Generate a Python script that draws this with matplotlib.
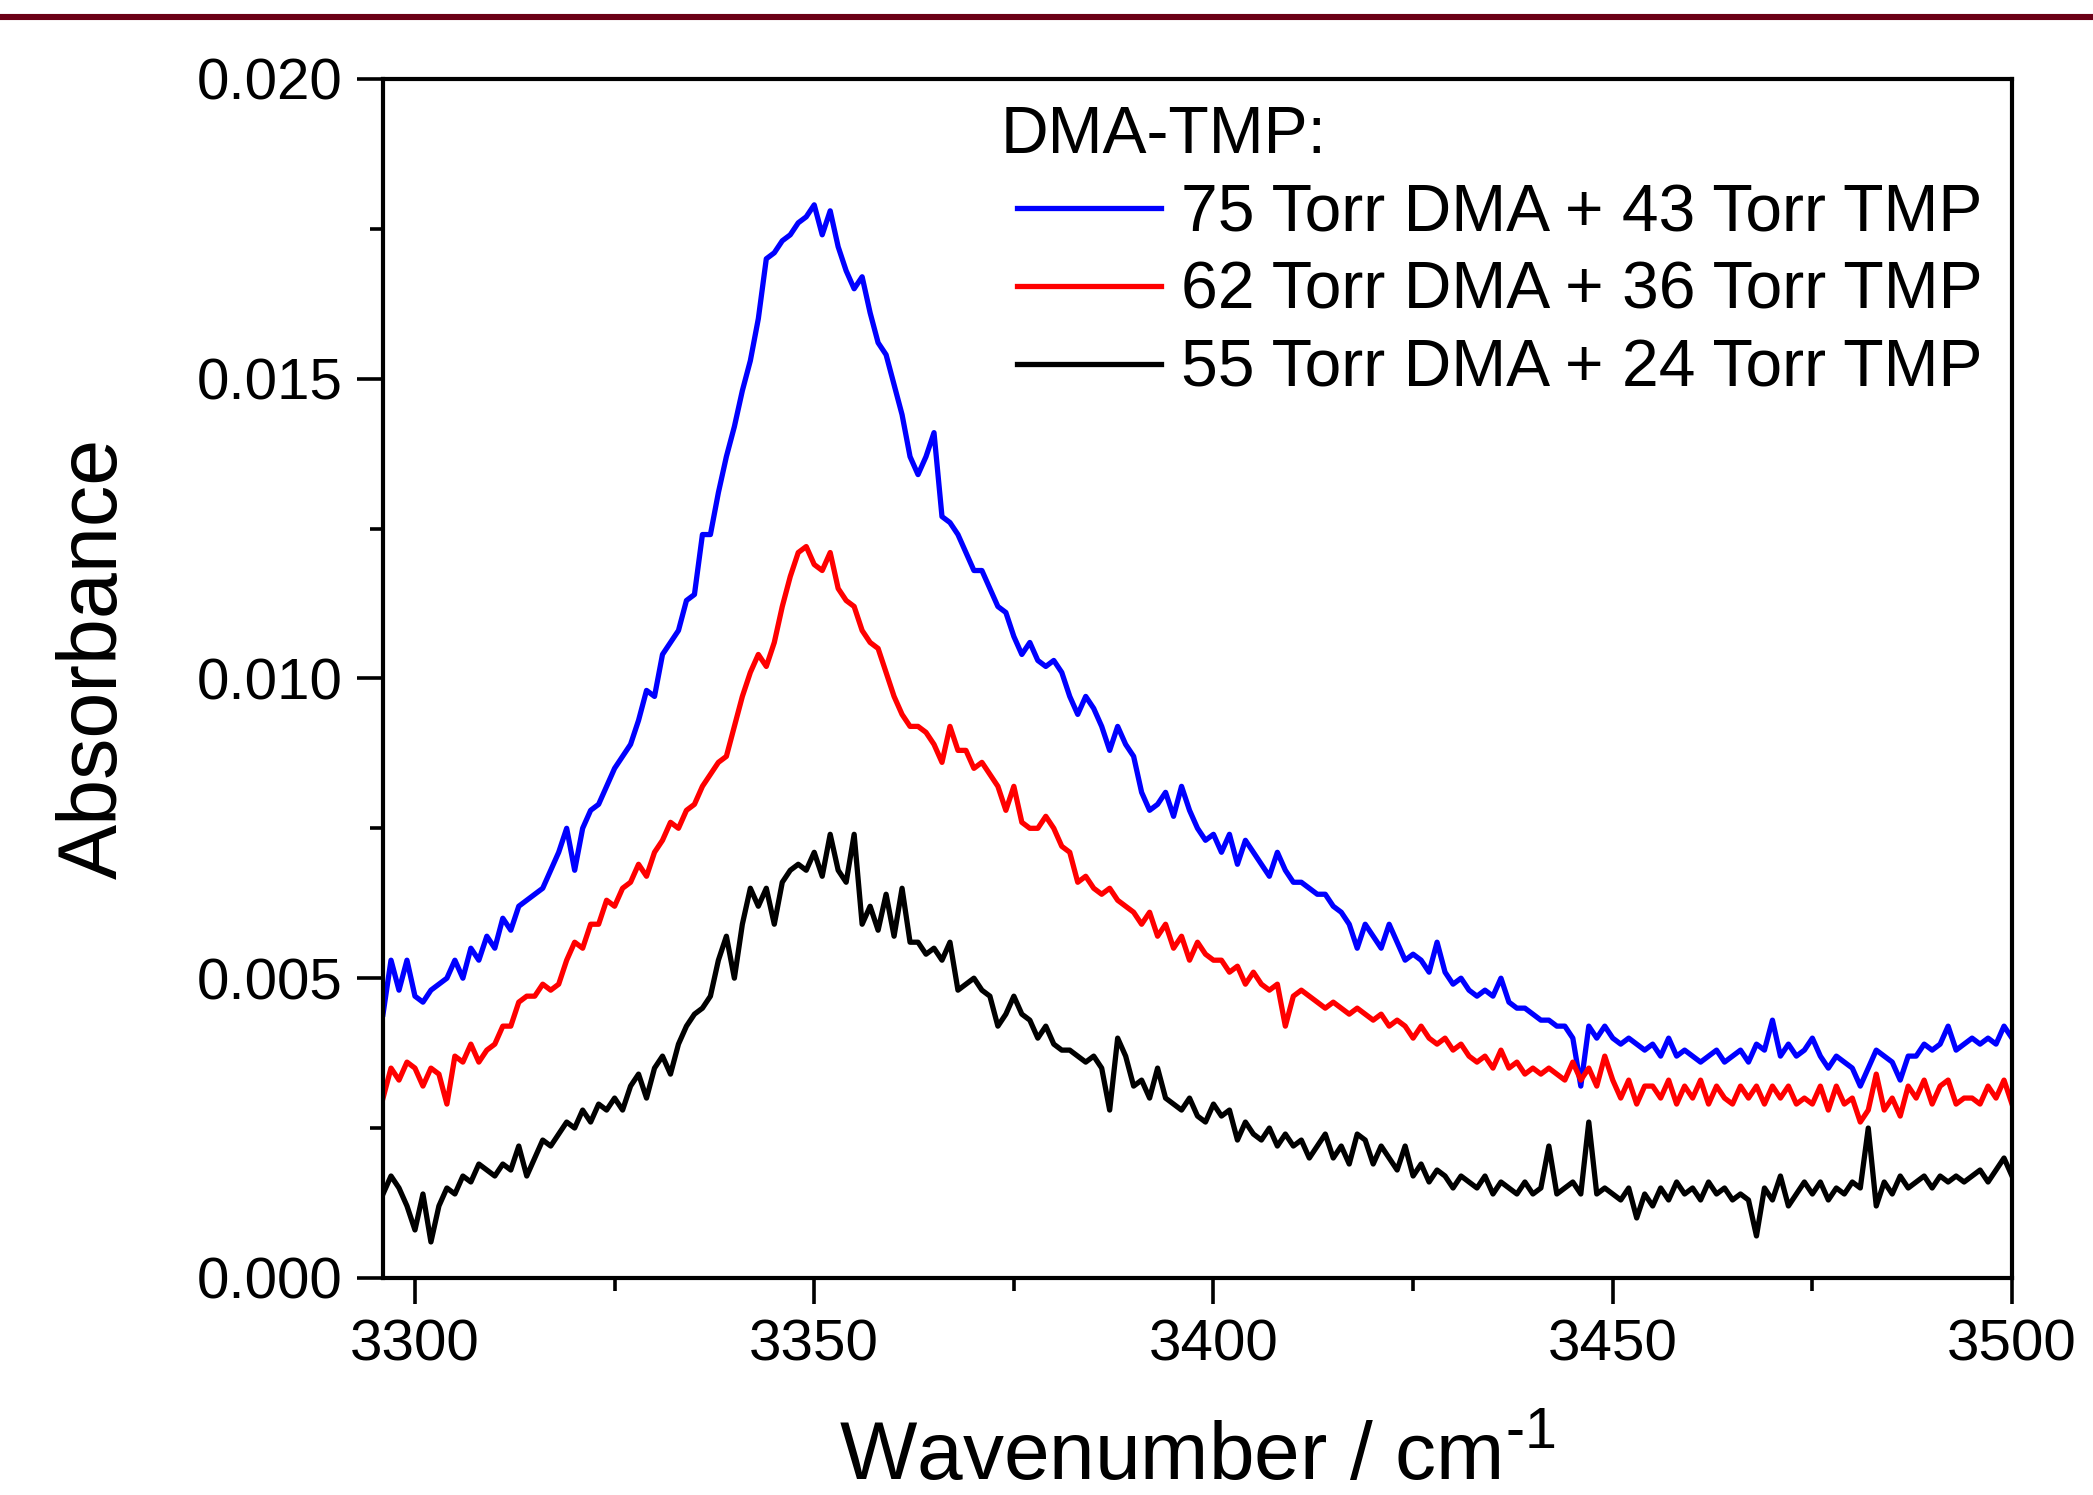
import numpy as np
import matplotlib
matplotlib.use('Agg')
import matplotlib.pyplot as plt
from matplotlib.lines import Line2D
from matplotlib.ticker import MultipleLocator

plt.rcParams['font.family'] = ['Liberation Sans', 'DejaVu Sans']
plt.rcParams['mathtext.fontset'] = 'custom'
plt.rcParams['mathtext.rm'] = 'Liberation Sans'

# wavenumber grid, cm-1
wavenumber = np.arange(3296, 3501)

# absorbance x 1e-3
abs_75_43 = [
    4.4, 5.3, 4.8, 5.3, 4.7, 4.6, 4.8, 4.9, 5.0, 5.3,
    5.0, 5.5, 5.3, 5.7, 5.5, 6.0, 5.8, 6.2, 6.3, 6.4,
    6.5, 6.8, 7.1, 7.5, 6.8, 7.5, 7.8, 7.9, 8.2, 8.5,
    8.7, 8.9, 9.3, 9.8, 9.7, 10.4, 10.6, 10.8, 11.3, 11.4,
    12.4, 12.4, 13.1, 13.7, 14.2, 14.8, 15.3, 16.0, 17.0, 17.1,
    17.3, 17.4, 17.6, 17.7, 17.9, 17.4, 17.8, 17.2, 16.8, 16.5,
    16.7, 16.1, 15.6, 15.4, 14.9, 14.4, 13.7, 13.4, 13.7, 14.1,
    12.7, 12.6, 12.4, 12.1, 11.8, 11.8, 11.5, 11.2, 11.1, 10.7,
    10.4, 10.6, 10.3, 10.2, 10.3, 10.1, 9.7, 9.4, 9.7, 9.5,
    9.2, 8.8, 9.2, 8.9, 8.7, 8.1, 7.8, 7.9, 8.1, 7.7,
    8.2, 7.8, 7.5, 7.3, 7.4, 7.1, 7.4, 6.9, 7.3, 7.1,
    6.9, 6.7, 7.1, 6.8, 6.6, 6.6, 6.5, 6.4, 6.4, 6.2,
    6.1, 5.9, 5.5, 5.9, 5.7, 5.5, 5.9, 5.6, 5.3, 5.4,
    5.3, 5.1, 5.6, 5.1, 4.9, 5.0, 4.8, 4.7, 4.8, 4.7,
    5.0, 4.6, 4.5, 4.5, 4.4, 4.3, 4.3, 4.2, 4.2, 4.0,
    3.2, 4.2, 4.0, 4.2, 4.0, 3.9, 4.0, 3.9, 3.8, 3.9,
    3.7, 4.0, 3.7, 3.8, 3.7, 3.6, 3.7, 3.8, 3.6, 3.7,
    3.8, 3.6, 3.9, 3.8, 4.3, 3.7, 3.9, 3.7, 3.8, 4.0,
    3.7, 3.5, 3.7, 3.6, 3.5, 3.2, 3.5, 3.8, 3.7, 3.6,
    3.3, 3.7, 3.7, 3.9, 3.8, 3.9, 4.2, 3.8, 3.9, 4.0,
    3.9, 4.0, 3.9, 4.2, 4.0]

abs_62_36 = [
    3.0, 3.5, 3.3, 3.6, 3.5, 3.2, 3.5, 3.4, 2.9, 3.7,
    3.6, 3.9, 3.6, 3.8, 3.9, 4.2, 4.2, 4.6, 4.7, 4.7,
    4.9, 4.8, 4.9, 5.3, 5.6, 5.5, 5.9, 5.9, 6.3, 6.2,
    6.5, 6.6, 6.9, 6.7, 7.1, 7.3, 7.6, 7.5, 7.8, 7.9,
    8.2, 8.4, 8.6, 8.7, 9.2, 9.7, 10.1, 10.4, 10.2, 10.6,
    11.2, 11.7, 12.1, 12.2, 11.9, 11.8, 12.1, 11.5, 11.3, 11.2,
    10.8, 10.6, 10.5, 10.1, 9.7, 9.4, 9.2, 9.2, 9.1, 8.9,
    8.6, 9.2, 8.8, 8.8, 8.5, 8.6, 8.4, 8.2, 7.8, 8.2,
    7.6, 7.5, 7.5, 7.7, 7.5, 7.2, 7.1, 6.6, 6.7, 6.5,
    6.4, 6.5, 6.3, 6.2, 6.1, 5.9, 6.1, 5.7, 5.9, 5.5,
    5.7, 5.3, 5.6, 5.4, 5.3, 5.3, 5.1, 5.2, 4.9, 5.1,
    4.9, 4.8, 4.9, 4.2, 4.7, 4.8, 4.7, 4.6, 4.5, 4.6,
    4.5, 4.4, 4.5, 4.4, 4.3, 4.4, 4.2, 4.3, 4.2, 4.0,
    4.2, 4.0, 3.9, 4.0, 3.8, 3.9, 3.7, 3.6, 3.7, 3.5,
    3.8, 3.5, 3.6, 3.4, 3.5, 3.4, 3.5, 3.4, 3.3, 3.6,
    3.3, 3.5, 3.2, 3.7, 3.3, 3.0, 3.3, 2.9, 3.2, 3.2,
    3.0, 3.3, 2.9, 3.2, 3.0, 3.3, 2.9, 3.2, 3.0, 2.9,
    3.2, 3.0, 3.2, 2.9, 3.2, 3.0, 3.2, 2.9, 3.0, 2.9,
    3.2, 2.8, 3.2, 2.9, 3.0, 2.6, 2.8, 3.4, 2.8, 3.0,
    2.7, 3.2, 3.0, 3.3, 2.9, 3.2, 3.3, 2.9, 3.0, 3.0,
    2.9, 3.2, 3.0, 3.3, 2.9]

abs_55_24 = [
    1.4, 1.7, 1.5, 1.2, 0.8, 1.4, 0.6, 1.2, 1.5, 1.4,
    1.7, 1.6, 1.9, 1.8, 1.7, 1.9, 1.8, 2.2, 1.7, 2.0,
    2.3, 2.2, 2.4, 2.6, 2.5, 2.8, 2.6, 2.9, 2.8, 3.0,
    2.8, 3.2, 3.4, 3.0, 3.5, 3.7, 3.4, 3.9, 4.2, 4.4,
    4.5, 4.7, 5.3, 5.7, 5.0, 5.9, 6.5, 6.2, 6.5, 5.9,
    6.6, 6.8, 6.9, 6.8, 7.1, 6.7, 7.4, 6.8, 6.6, 7.4,
    5.9, 6.2, 5.8, 6.4, 5.7, 6.5, 5.6, 5.6, 5.4, 5.5,
    5.3, 5.6, 4.8, 4.9, 5.0, 4.8, 4.7, 4.2, 4.4, 4.7,
    4.4, 4.3, 4.0, 4.2, 3.9, 3.8, 3.8, 3.7, 3.6, 3.7,
    3.5, 2.8, 4.0, 3.7, 3.2, 3.3, 3.0, 3.5, 3.0, 2.9,
    2.8, 3.0, 2.7, 2.6, 2.9, 2.7, 2.8, 2.3, 2.6, 2.4,
    2.3, 2.5, 2.2, 2.4, 2.2, 2.3, 2.0, 2.2, 2.4, 2.0,
    2.2, 1.9, 2.4, 2.3, 1.9, 2.2, 2.0, 1.8, 2.2, 1.7,
    1.9, 1.6, 1.8, 1.7, 1.5, 1.7, 1.6, 1.5, 1.7, 1.4,
    1.6, 1.5, 1.4, 1.6, 1.4, 1.5, 2.2, 1.4, 1.5, 1.6,
    1.4, 2.6, 1.4, 1.5, 1.4, 1.3, 1.5, 1.0, 1.4, 1.2,
    1.5, 1.3, 1.6, 1.4, 1.5, 1.3, 1.6, 1.4, 1.5, 1.3,
    1.4, 1.3, 0.7, 1.5, 1.3, 1.7, 1.2, 1.4, 1.6, 1.4,
    1.6, 1.3, 1.5, 1.4, 1.6, 1.5, 2.5, 1.2, 1.6, 1.4,
    1.7, 1.5, 1.6, 1.7, 1.5, 1.7, 1.6, 1.7, 1.6, 1.7,
    1.8, 1.6, 1.8, 2.0, 1.7]

labels = ['75 Torr DMA + 43 Torr TMP',
          '62 Torr DMA + 36 Torr TMP',
          '55 Torr DMA + 24 Torr TMP']
colors = ['#0000ff', '#ff0000', '#000000']
series = [abs_75_43, abs_62_36, abs_55_24]

fig = plt.figure(figsize=(20.93, 14.95), dpi=100)
ax = fig.add_axes([0.1830, 0.1452, 0.7783, 0.8020])

for y, lab, c in zip(series, labels, colors):
    ax.plot(wavenumber, np.array(y) / 1000, color=c, linewidth=3.8, label=lab,
            solid_joinstyle='round')

ax.set_xlim(3296, 3500)
ax.set_ylim(0, 0.020)
ax.xaxis.set_major_locator(MultipleLocator(50))
ax.xaxis.set_minor_locator(MultipleLocator(25))
ax.yaxis.set_major_locator(MultipleLocator(0.005))
ax.yaxis.set_minor_locator(MultipleLocator(0.0025))
ax.yaxis.set_major_formatter(matplotlib.ticker.FormatStrFormatter('%.3f'))

for s in ax.spines.values():
    s.set_linewidth(3)
ax.tick_params(which='both', direction='out', top=False, right=False, width=2.6)
ax.tick_params(which='major', length=19, labelsize=42, pad=10)
ax.tick_params(which='minor', length=9.5)

ax.set_xlabel(r'Wavenumber / cm$^{\text{-}1}$', fontsize=59)
ax.set_ylabel('Absorbance', fontsize=59.5)
ax.xaxis.set_label_coords(0.5, -0.119)
ax.yaxis.set_label_coords(-0.153, 0.517)

leg = ax.legend(loc='upper left', bbox_to_anchor=(0.389, 0.978), frameon=False,
                title='DMA-TMP:', fontsize=47.5, title_fontsize=47.5,
                handlelength=2.19, handletextpad=0.3, labelspacing=0.24,
                borderpad=0, borderaxespad=0, alignment='left')
leg.get_title().set_x(-16)
for h in leg.legend_handles:
    h.set_linewidth(3.8)

# dark red rule along the top of the page
fig.add_artist(Line2D([0, 1], [1 - 16.5 / 1495] * 2, transform=fig.transFigure,
                      color='#6b0016', linewidth=4.4))

fig.savefig('out.png', dpi=100, facecolor='white')
